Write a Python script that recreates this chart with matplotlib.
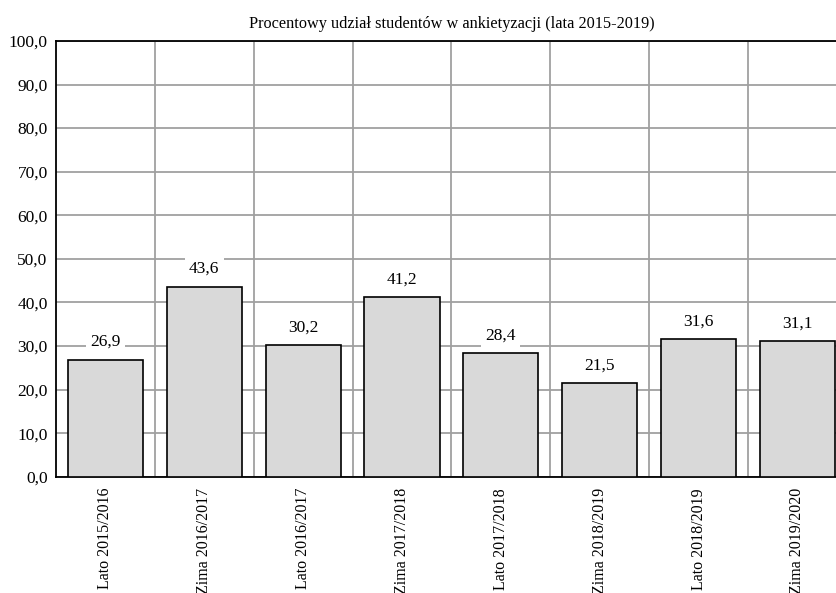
import numpy as np
import matplotlib.pyplot as plt
from matplotlib.ticker import FuncFormatter

# dane
semestry = ["Lato 2015/2016", "Zima 2016/2017", "Lato 2016/2017", "Zima 2017/2018",
            "Lato 2017/2018", "Zima 2018/2019", "Lato 2018/2019", "Zima 2019/2020"]
udzial = [26.9, 43.6, 30.2, 41.2, 28.4, 21.5, 31.6, 31.1]

plt.rcParams['font.family'] = ['Liberation Serif', 'DejaVu Serif']

fig = plt.figure(figsize=(8.36, 5.93), dpi=100)
ax = fig.add_axes([0.067, 0.196, 0.946, 0.735])

x = np.arange(len(semestry))
ax.bar(x, udzial, width=0.76, color='#d9d9d9', edgecolor='black', linewidth=1.2, zorder=3)

for xi, v in zip(x, udzial):
    ax.annotate(f"{v:.1f}".replace('.', ','), (xi, v), xytext=(0, 7), textcoords='offset points',
                ha='center', va='bottom', fontsize=12.5, zorder=4,
                bbox=dict(facecolor='white', edgecolor='none', pad=3))

ax.set_xlim(-0.5, len(semestry) - 0.5)
ax.set_ylim(0, 100)
ax.set_yticks(np.arange(0, 101, 10))
ax.yaxis.set_major_formatter(FuncFormatter(lambda v, p: f"{v:.1f}".replace('.', ',')))
ax.set_xticks(x)
ax.set_xticklabels(semestry, rotation=90, fontsize=11.5)
ax.set_xticks(np.arange(0.5, len(semestry) - 0.5, 1), minor=True)
ax.tick_params(axis='y', labelsize=12.5, length=0, pad=6)
ax.tick_params(axis='x', which='both', length=0, pad=8)

ax.grid(axis='y', which='major', color='#a0a0a0', linewidth=1.3, zorder=0)
ax.grid(axis='x', which='minor', color='#a0a0a0', linewidth=1.3, zorder=0)
ax.set_axisbelow(True)
for s in ax.spines.values():
    s.set_linewidth(1.3)

ax.set_title("Procentowy udział studentów w ankietyzacji (lata 2015-2019)", fontsize=11.7, pad=9)

fig.savefig("out.png", dpi=100)
